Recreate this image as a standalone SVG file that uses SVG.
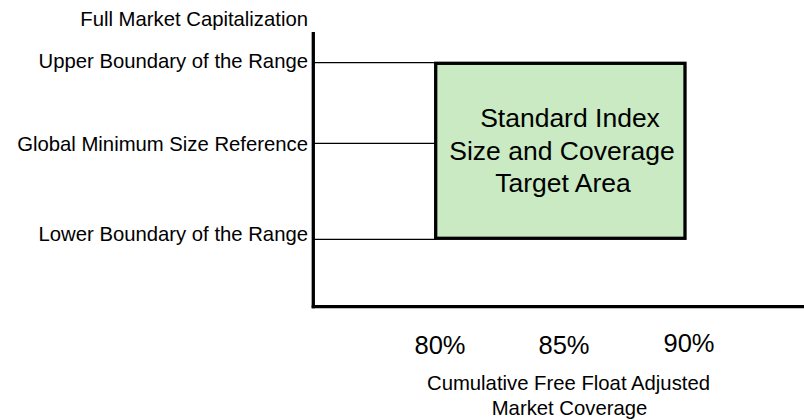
<svg xmlns="http://www.w3.org/2000/svg" width="804" height="420" viewBox="0 0 804 420">
<style>
text{font-family:"Liberation Sans",Arial,sans-serif;fill:#000}
.lbl{font-size:20.3px;text-anchor:end}
.ax{font-size:20.3px;text-anchor:middle}
.pct{font-size:25.5px;text-anchor:middle}
.box{font-size:26.5px;text-anchor:middle}
.thin{stroke:#000;stroke-width:1.2;fill:none}
.axis{stroke:#000;stroke-width:3.3;fill:none}
</style>
<rect width="804" height="420" fill="#fff"/>
<g id="connectors">
<line class="thin" x1="313" y1="62.7" x2="436" y2="62.7"/>
<line class="thin" x1="313" y1="143.3" x2="436" y2="143.3"/>
<line class="thin" x1="313" y1="239.3" x2="436" y2="239.3"/>
</g>
<g id="axes">
<line class="axis" x1="313.3" y1="32" x2="313.3" y2="308.3"/>
<line class="axis" x1="311.7" y1="306.7" x2="804" y2="306.7"/>
</g>
<g id="y-labels">
<text class="lbl" x="308" y="26">Full Market Capitalization</text>
<text class="lbl" x="308" y="68">Upper Boundary of the Range</text>
<text class="lbl" x="308" y="150.7">Global Minimum Size Reference</text>
<text class="lbl" x="308" y="240.7">Lower Boundary of the Range</text>
</g>
<g id="target-area">
<rect x="435.7" y="63.3" width="249.3" height="175" fill="#C9EAC2" stroke="#000" stroke-width="3.3"/>
<text class="box" x="570" y="127">Standard Index</text>
<text class="box" x="562" y="160">Size and Coverage</text>
<text class="box" x="563" y="192">Target Area</text>
</g>
<g id="x-labels">
<text class="pct" x="440" y="354">80%</text>
<text class="pct" x="564" y="354">85%</text>
<text class="pct" x="689" y="351.7">90%</text>
<text class="ax" x="568.5" y="390">Cumulative Free Float Adjusted</text>
<text class="ax" x="569.5" y="415">Market Coverage</text>
</g>
</svg>
